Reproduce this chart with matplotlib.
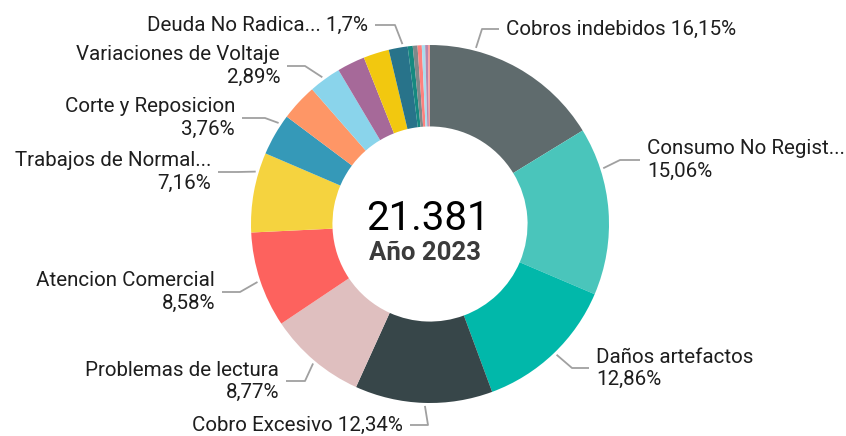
import matplotlib
matplotlib.use("Agg")
import matplotlib.pyplot as plt
import numpy as np

# Slices, clockwise from 12 o'clock (percent of total)
categories = ["Cobros indebidos", "Consumo No Regist...", "Daños artefactos",
              "Cobro Excesivo", "Problemas de lectura", "Atencion Comercial",
              "Trabajos de Normal...", "Corte y Reposicion", "Otro 1",
              "Variaciones de Voltaje", "Otro 2", "Otro 3", "Deuda No Radica...",
              "Otro 4", "Otro 5", "Otro 6", "Otro 7", "Otro 8", "Otro 9"]
percents = [16.15, 15.06, 12.86, 12.34, 8.77, 8.58, 7.16, 3.76, 3.30,
            2.89, 2.50, 2.30, 1.70, 0.45, 0.42, 0.38, 0.30, 0.25, 0.18]
pct_labels = ["16,15%", "15,06%", "12,86%", "12,34%", "8,77%", "8,58%",
              "7,16%", "3,76%", "", "2,89%", "", "", "1,7%",
              "", "", "", "", "", ""]
colors = ["#5F6B6D", "#4AC5BB", "#01B8AA", "#374649", "#DFBFBF", "#FD625E",
          "#F5D33F", "#3599B8", "#FE9666", "#8AD4EB", "#A66999", "#F2C80F",
          "#28738A", "#168980", "#7F898A", "#FD817E", "#A9DDEE", "#B887AD",
          "#F4A1A0"]
total_text = "21.381"
year_text = "Año 2023"

W, H = 846, 436
CX, CY, R = 430, 224, 179

# label layout (image pixel coords): index, position inside wedge, elbow, line end, two lines?
layout = [
    (0, 0.25, (482, 29), 499, False),
    (1, 0.25, (620, 160), 640, True),
    (2, 0.49, (572, 368), 589, True),
    (3, 0.49, (428, 425), 410, False),
    (4, 0.49, (305, 381), 286, True),
    (5, 0.49, (240, 292), 222, True),
    (6, 0.75, (238, 172), 218, True),
    (7, 0.77, (265, 118), 242, True),
    (9, 0.47, (305, 66), 287, True),
    (12, 0.75, (395, 25), 375, False),
]

fig = plt.figure(figsize=(W / 100, H / 100), dpi=100)
ax = fig.add_axes([0, 0, 1, 1])
wedges, _ = ax.pie(percents, colors=colors, startangle=90, counterclock=False,
                   center=(CX, H - CY), radius=R,
                   wedgeprops=dict(width=R * 0.455, linewidth=0))
ax.set_xlim(0, W)
ax.set_ylim(0, H)
ax.set_aspect("equal")
ax.axis("off")

font = "Roboto"
for idx, frac, (ex, ey), endx, two in layout:
    w = wedges[idx]
    th = np.deg2rad(w.theta2 - frac * (w.theta2 - w.theta1))
    sx, sy = CX + (R + 3) * np.cos(th), (H - CY) + (R + 3) * np.sin(th)
    ax.plot([sx, ex, endx], [sy, H - ey, H - ey], color="#A0A0A0", lw=1.3,
            solid_capstyle="butt")
    right = endx > ex
    txt = f"{categories[idx]}\n{pct_labels[idx]}" if two else f"{categories[idx]} {pct_labels[idx]}"
    ax.text(endx + (7 if right else -7), H - ey, txt,
            ha="left" if right else "right", va="center", fontsize=14.8,
            family=font, color="#1E1E1E", linespacing=1.2)

ax.text(CX - 2, H - 219, total_text, ha="center", va="center", fontsize=29,
        family=font, color="#000000")
ax.text(CX - 5, H - 253, year_text, ha="center", va="center", fontsize=18.5,
        family=font, fontweight="bold", color="#3B3B3B")

fig.savefig("out.png", dpi=100)
